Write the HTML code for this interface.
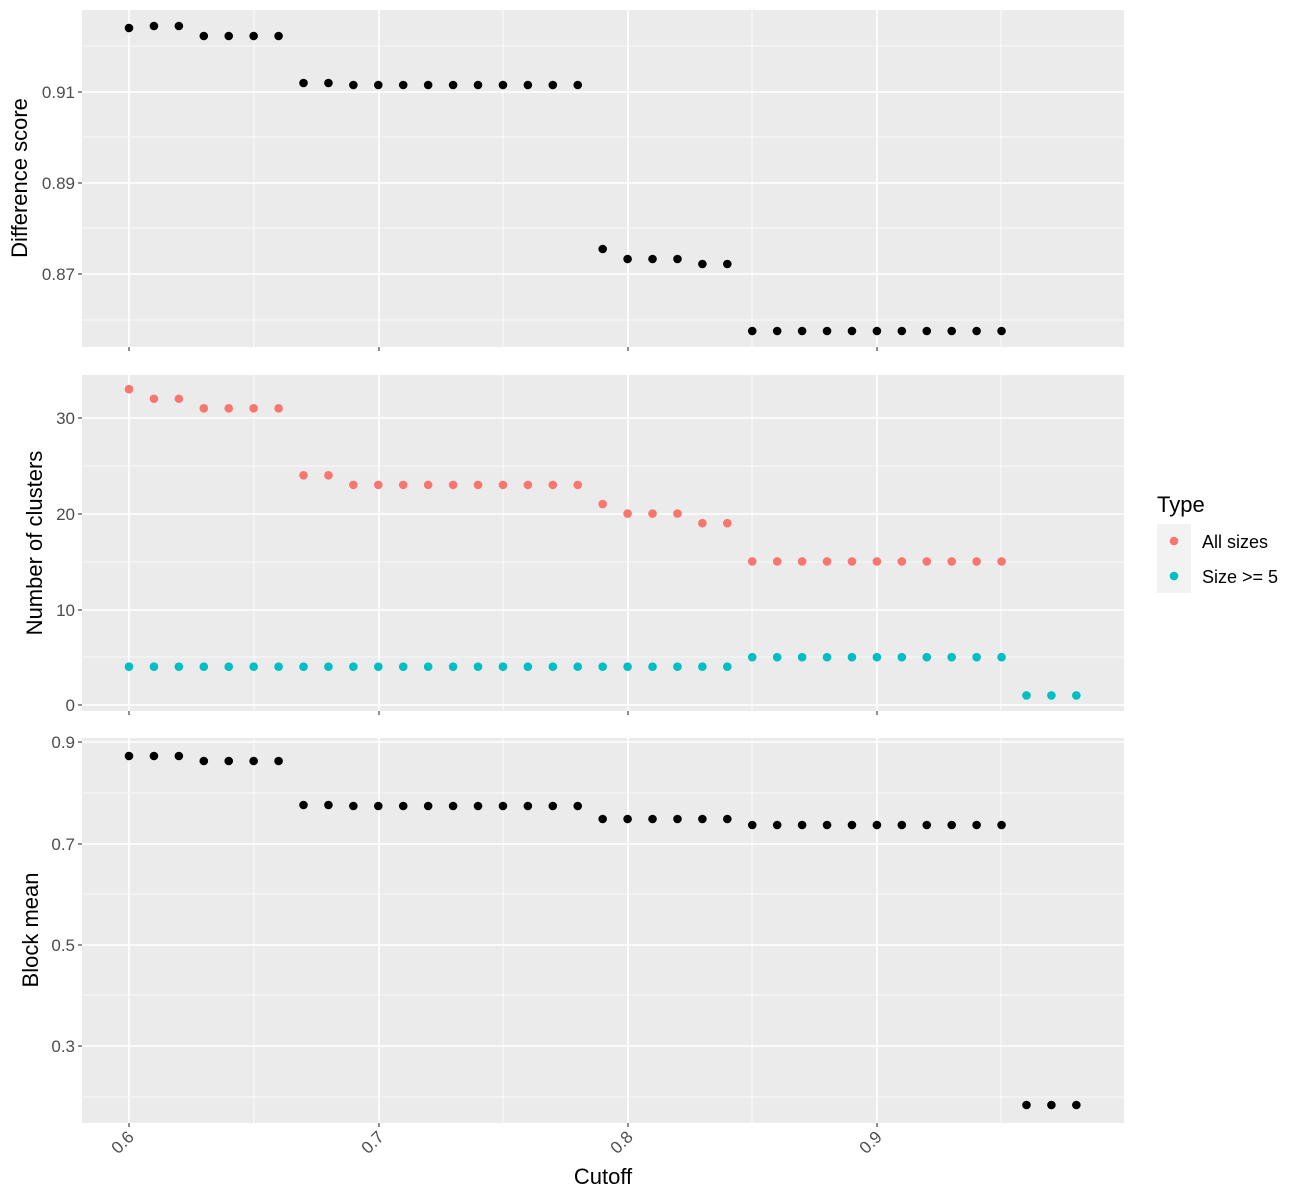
<!DOCTYPE html>
<html><head><meta charset="utf-8"><style>body{margin:0;background:#fff}svg{display:block}</style></head>
<body>
<svg id="s" width="1300" height="1200" xmlns="http://www.w3.org/2000/svg" style="font-family:'Liberation Sans',sans-serif"></svg>
<script>
const s=document.getElementById('s');let h='';
const X0=82,X1=1124;
const xp=v=>129+(v-0.6)*2493;
const xsM=[129,379,628,877],xsm=[254,503,752,1001];
function panel(y0,y1,maj,mino,labels){
  h+=`<rect x="${X0}" y="${y0}" width="${X1-X0}" height="${y1-y0}" fill="#ebebeb"/>`;
  mino.forEach(y=>h+=`<line x1="${X0}" x2="${X1}" y1="${y}" y2="${y}" stroke="#fff" stroke-width="0.8"/>`);
  xsm.forEach(x=>h+=`<line x1="${x}" x2="${x}" y1="${y0}" y2="${y1}" stroke="#fff" stroke-width="0.8"/>`);
  maj.forEach((y,i)=>{h+=`<line x1="${X0}" x2="${X1}" y1="${y}" y2="${y}" stroke="#fff" stroke-width="1.6"/>`;
    h+=`<line x1="${X0-4}" x2="${X0}" y1="${y}" y2="${y}" stroke="#333" stroke-width="1.1"/>`;
    h+=`<text x="${X0-7}" y="${y+6}" font-size="17" fill="#4d4d4d" text-anchor="end">${labels[i]}</text>`;});
  xsM.forEach(x=>{h+=`<line x1="${x}" x2="${x}" y1="${y0}" y2="${y1}" stroke="#fff" stroke-width="1.6"/>`;
    h+=`<line x1="${x}" x2="${x}" y1="${y1}" y2="${y1+4}" stroke="#333" stroke-width="1.1"/>`;});
}
panel(10,347,[92,183,274],[46,137,228,320],['0.91','0.89','0.87']);
panel(375,711,[418,514,610,705],[466,562,657],['30','20','10','0']);
panel(738,1123,[742,844,945,1046],[793,894,995,1097],['0.9','0.7','0.5','0.3']);
function pts(arr,fill){arr.forEach(([v,y])=>h+=`<circle cx="${xp(v)}" cy="${y}" r="4.3" fill="${fill}"/>`);}
function build(spec){let out=[];spec.forEach(([a,b,y])=>{for(let i=a;i<=b;i++)out.push([i/100,y]);});return out;}
pts(build([[60,60,28],[61,62,26],[63,66,36],[67,68,83],[69,78,85],[79,79,249],[80,82,259],[83,84,264],[85,95,331]]),'#000');
const my=v=>705-v*9.57;
pts(build([[60,60,my(33)],[61,62,my(32)],[63,66,my(31)],[67,68,my(24)],[69,78,my(23)],[79,79,my(21)],[80,82,my(20)],[83,84,my(19)],[85,95,my(15)]]),'#f8766d');
pts(build([[60,84,my(4)],[85,95,my(5)],[96,98,my(1)]]),'#00bfc4');
pts(build([[60,62,756],[63,66,761],[67,68,805],[69,78,806],[79,84,819],[85,95,825],[96,98,1105]]),'#000');
['0.6','0.7','0.8','0.9'].forEach((t,i)=>{const x=xsM[i];h+=`<text transform="translate(${x+6},${1138}) rotate(-45)" font-size="17" fill="#4d4d4d" text-anchor="end">${t}</text>`;});
h+=`<text x="603" y="1184" font-size="22" text-anchor="middle">Cutoff</text>`;
h+=`<text transform="translate(27,178) rotate(-90)" font-size="22" text-anchor="middle">Difference score</text>`;
h+=`<text transform="translate(42,543) rotate(-90)" font-size="22" text-anchor="middle">Number of clusters</text>`;
h+=`<text transform="translate(38,930) rotate(-90)" font-size="22" text-anchor="middle">Block mean</text>`;
h+=`<text x="1157" y="512" font-size="22">Type</text>`;
h+=`<rect x="1157" y="524" width="34" height="69" fill="#f2f2f2"/>`;
h+=`<circle cx="1174" cy="541" r="4.3" fill="#f8766d"/><circle cx="1174" cy="576" r="4.3" fill="#00bfc4"/>`;
h+=`<text x="1202" y="548" font-size="18">All sizes</text><text x="1202" y="583" font-size="18">Size &gt;= 5</text>`;
s.innerHTML=h;
</script>
</body></html>
